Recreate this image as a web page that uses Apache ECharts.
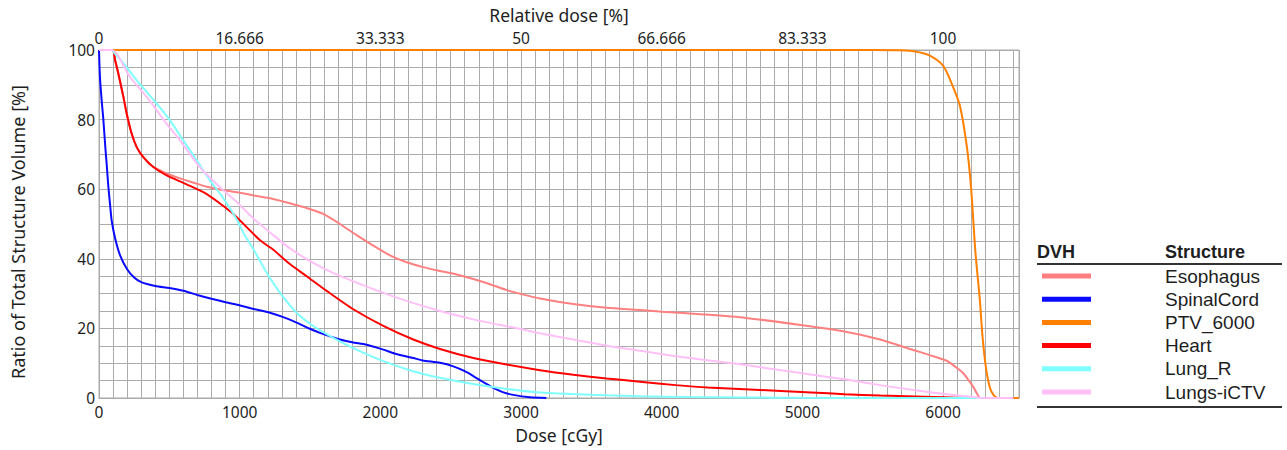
<!DOCTYPE html>
<html>
<head>
<meta charset="utf-8">
<script src="https://cdn.jsdelivr.net/npm/echarts@6/dist/echarts.min.js"></script>
<style>html,body{margin:0;padding:0;background:#fff}#c{width:1287px;height:450px}</style>
</head>
<body>
<div id="c"></div>
<script>
// ---- data (dose cGy, volume %) ----
const seriesNames = ['Esophagus', 'SpinalCord', 'PTV_6000', 'Heart', 'Lung_R', 'Lungs-iCTV'];
const seriesColors = ['#ff8080', '#0a0aff', '#ff8000', '#ff0000', '#80ffff', '#ffc0f8'];
const topTickLabels = ['0', '16.666', '33.333', '50', '66.666', '83.333', '100'];

const esophagus = [[0,100],[95,100],[115,97],[137,93.3],[173,86.6],[197,81.7],[232,76],[268,72.1],[315,69.2],[360,67.2],[410,65.9],[480,64.5],[576,63.1],[680,61.8],[766,60.7],[900,59.6],[1002,59],[1100,58.2],[1239,57.2],[1381,55.7],[1476,54.6],[1594,52.9],[1713,50],[1831,46.8],[1950,43.8],[2068,41],[2187,39],[2305,37.6],[2424,36.5],[2542,35.5],[2661,34.2],[2780,32.7],[2898,31],[3000,29.9],[3135,28.6],[3372,27],[3609,25.9],[3846,25.3],[4000,24.8],[4300,24],[4600,23],[5000,20.9],[5300,19.1],[5552,16.8],[5789,13.8],[5900,12.4],[6026,10.7],[6100,8.6],[6144,7.1],[6180,5.2],[6215,3.2],[6245,1],[6263,0],[6300,0]];
const spinalCord = [[0,100],[7,92],[20,85],[31,80],[45,72],[55,67],[66,61],[80,55],[90,51],[114,46],[150,41],[200,37],[250,34.6],[300,33.3],[400,32.2],[500,31.6],[600,30.8],[700,29.6],[800,28.5],[900,27.5],[1002,26.6],[1100,25.6],[1215,24.5],[1300,23.4],[1381,22.1],[1500,19.9],[1571,18.7],[1713,16.8],[1800,16],[1903,15.3],[2021,13.9],[2100,12.8],[2234,11.5],[2300,10.8],[2424,10.1],[2519,9.1],[2600,7.7],[2661,6.3],[2730,4.6],[2803,2.9],[2870,1.7],[2945,0.9],[3064,0.2],[3180,0]];
const ptv6000 = [[0,100],[5500,100],[5700,99.9],[5800,99.6],[5900,98.5],[6000,95.5],[6060,90.5],[6120,84],[6170,72],[6200,60],[6230,42],[6262,28],[6280,18],[6305,8.7],[6333,3],[6360,0.8],[6390,0],[6540,0]];
const heart = [[0,100],[95,100],[115,97],[137,93.3],[173,86.6],[197,81.7],[232,76],[268,72.1],[315,69.2],[386,66.4],[481,64],[623,61.4],[766,58.6],[860,55.9],[955,52.9],[1050,49.1],[1145,45.3],[1239,42.6],[1350,38.7],[1476,35],[1618,30.8],[1808,25.5],[2021,20.7],[2234,16.8],[2424,14.1],[2661,11.5],[2898,9.6],[3135,8.0],[3372,6.7],[3609,5.6],[3846,4.7],[4100,3.7],[4327,3.0],[4700,2.3],[5065,1.6],[5300,1.1],[5557,0.7],[5925,0.3],[6100,0.1],[6200,0]];
const lungR = [[0,100],[90,100],[102,99.5],[173,96.2],[268,91.3],[410,84.6],[505,79.8],[600,74],[694,68.3],[789,62.5],[884,57.4],[979,51.3],[1026,47.5],[1097,42.8],[1192,36],[1286,30.3],[1405,24.5],[1523,20.7],[1665,17.3],[1831,13.9],[2021,10.6],[2234,7.7],[2424,5.8],[2661,4.0],[2898,2.6],[3135,1.6],[3372,1.15],[3609,0.77],[3846,0.5],[4200,0.3],[4600,0.15],[5000,0.05],[5500,0],[6300,0]];
const lungsICTV = [[0,100],[90,100],[126,99],[220,92.3],[339,86.5],[481,78.8],[576,74],[718,66.3],[860,60.6],[979,56.3],[1097,51.6],[1239,46.8],[1350,43.2],[1476,39.9],[1600,37.2],[1713,35.1],[1950,31.3],[2187,27.9],[2424,25],[2661,22.6],[2898,20.6],[3000,19.8],[3135,18.6],[3372,16.8],[3609,15],[3846,13.6],[4100,12],[4574,9.6],[5000,7.1],[5312,5.3],[5552,3.7],[5789,2.3],[6026,1.1],[6263,0.1],[6300,0],[6500,0]];

const seriesData = [esophagus, spinalCord, ptv6000, heart, lungR, lungsICTV];

const axisFont = 'Noto Sans';
const textColor = '#1e1e1e';
const gridColor = '#ababab';

const chart = echarts.init(document.getElementById('c'), null, {renderer: 'svg'});
chart.setOption({
  animation: false,
  backgroundColor: '#fff',
  grid: {left: 99, top: 50, right: 268, bottom: 52, show: true, borderColor: gridColor, borderWidth: 1},
  xAxis: [{
    type: 'value', position: 'bottom', min: 0, max: 6540, interval: 100,
    axisLine: {show: true, lineStyle: {color: gridColor}},
    axisTick: {show: false},
    axisLabel: {color: textColor, fontFamily: axisFont, fontSize: 15.5, margin: 6,
      formatter: v => (v % 1000 === 0 ? String(v) : '')},
    splitLine: {show: true, lineStyle: {color: gridColor, width: 1}},
    name: 'Dose [cGy]', nameLocation: 'middle', nameGap: 28,
    nameTextStyle: {color: textColor, fontFamily: axisFont, fontSize: 17.5}
  }, {
    type: 'value', position: 'top', min: 0, max: 6540, interval: 1000,
    axisLine: {show: false}, axisTick: {show: false}, splitLine: {show: false},
    axisLabel: {color: textColor, fontFamily: axisFont, fontSize: 15.5, margin: 4, showMaxLabel: false,
      formatter: v => (v % 1000 === 0 && topTickLabels[v / 1000] !== undefined ? topTickLabels[v / 1000] : '')},
    name: 'Relative dose [%]', nameLocation: 'middle', nameGap: 26,
    nameTextStyle: {color: textColor, fontFamily: axisFont, fontSize: 17.5}
  }],
  yAxis: {
    type: 'value', min: 0, max: 100, interval: 5,
    axisLine: {show: true, lineStyle: {color: gridColor}},
    axisTick: {show: false},
    axisLabel: {color: textColor, fontFamily: axisFont, fontSize: 15.5, margin: 4,
      formatter: v => (v % 20 === 0 ? String(v) : '')},
    splitLine: {show: true, lineStyle: {color: gridColor, width: 1}},
    name: 'Ratio of Total Structure Volume [%]', nameLocation: 'middle', nameGap: 72,
    nameTextStyle: {color: textColor, fontFamily: axisFont, fontSize: 18, padding: [0, 16, 0, 0]}
  },
  legend: {
    orient: 'vertical', left: 1037, top: 261.5, selectedMode: false,
    icon: 'rect', itemWidth: 49, itemHeight: 5, itemGap: 4.2,
    data: seriesNames,
    textStyle: {color: textColor, fontFamily: 'Liberation Sans', fontSize: 19, lineHeight: 19, padding: [0, 0, 0, 69]}
  },
  graphic: [
    {type: 'text', left: 1037, top: 243, style: {text: 'DVH', font: 'bold 18px "Liberation Sans"', fill: '#1e1e1e'}},
    {type: 'text', left: 1165, top: 243, style: {text: 'Structure', font: 'bold 18px "Liberation Sans"', fill: '#1e1e1e'}},
    {type: 'line', shape: {x1: 1037, y1: 264, x2: 1282, y2: 264}, style: {stroke: '#333', lineWidth: 2}},
    {type: 'line', shape: {x1: 1037, y1: 407, x2: 1282, y2: 407}, style: {stroke: '#333', lineWidth: 2}}
  ],
  series: seriesNames.map((n, i) => ({
    name: n, type: 'line', xAxisIndex: 0, data: seriesData[i],
    showSymbol: false, smooth: 0.25,
    lineStyle: {color: seriesColors[i], width: 2},
    itemStyle: {color: seriesColors[i]}
  }))
});
</script>
</body>
</html>
